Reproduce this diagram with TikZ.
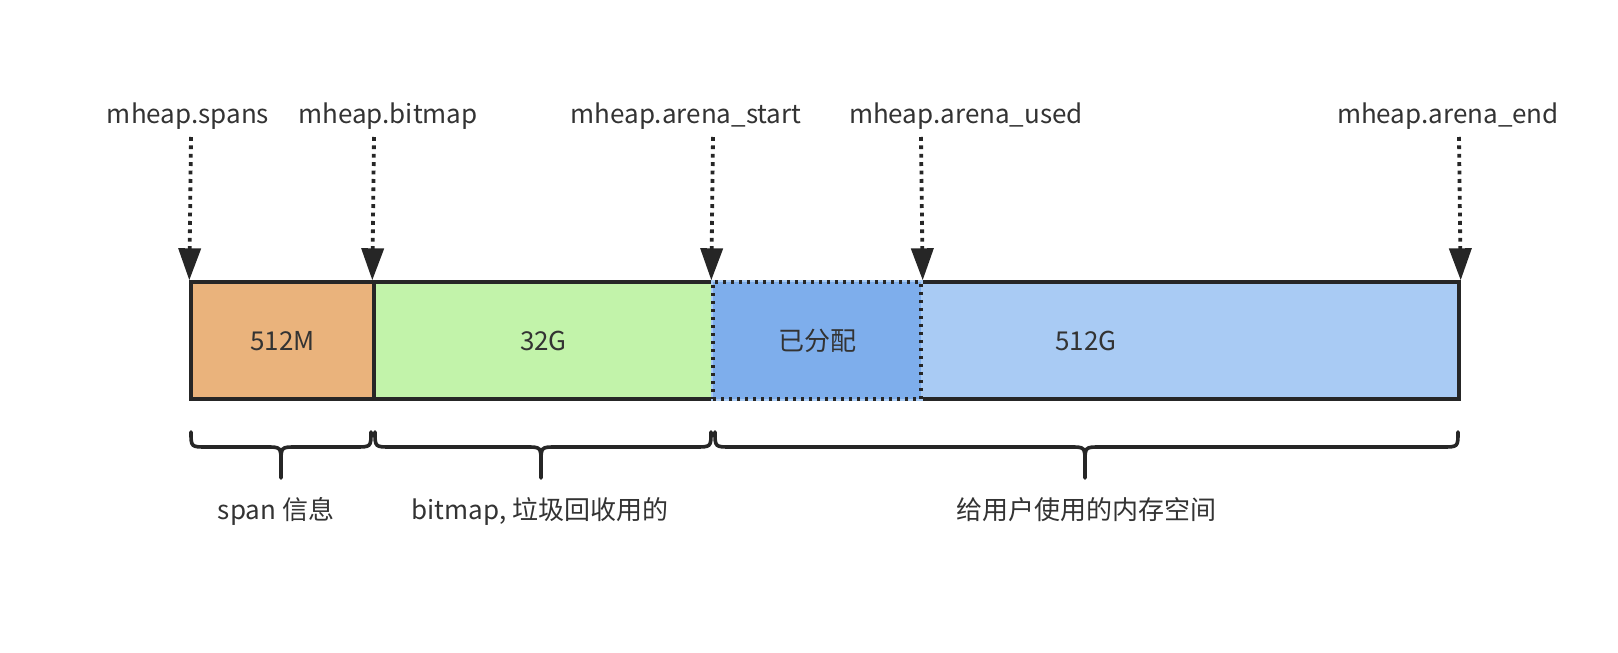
\documentclass[tikz,border=0pt]{standalone}
\usepackage{fontspec}
\setmainfont{Noto Sans CJK SC}
\usetikzlibrary{arrows.meta}
\definecolor{txt}{HTML}{333333}
\definecolor{edge}{HTML}{262626}
\definecolor{spanfill}{HTML}{EAB37C}
\definecolor{bitfill}{HTML}{C2F3AA}
\definecolor{usedfill}{HTML}{7EAEEC}
\definecolor{arenafill}{HTML}{A9CBF4}
\newcommand\mybrace[3]{%
  \draw[brc] (#1,432) .. controls (#1,447) .. ({#1+16},447) -- ({#2-15},447)
     .. controls (#2,447) .. (#2,463) -- (#2,478)
     (#2,463) .. controls (#2,447) .. ({#2+15},447) -- ({#3-16},447)
     .. controls (#3,447) .. (#3,432);}
\begin{document}
\begin{tikzpicture}[x=0.5pt,y=-0.5pt,
  lbl/.style={anchor=base,inner sep=0pt,text=txt,font=\fontsize{13pt}{15pt}\selectfont},
  seg/.style={rectangle,draw=edge,line width=1.7pt,inner sep=0pt,minimum height=58.5pt,
    text height=9.5pt,text depth=0pt,text=txt,font=\fontsize{13pt}{15pt}\selectfont},
  usedstyle/.style={draw=edge,line width=1.7pt,dash pattern=on 1.5pt off 2.5pt,
    preaction={draw=arenafill,line width=1.7pt,solid}},
  ptr/.style={draw=edge,line width=1.9pt,dash pattern=on 1.9pt off 2.3pt,
    -{Triangle[width=11pt,length=16pt]}},
  brc/.style={draw=edge,line width=1.8pt,line cap=round,line join=round}]
\useasboundingbox (0,0) rectangle (1618,653);
\fill[white] (0,0) rectangle (1618,653);
% bar segments
\node[seg,fill=spanfill,minimum width=91.5pt] (span) at (282.5,340.5) {512M};
\node[seg,fill=bitfill,minimum width=169.5pt] (bmp) at (543.5,340.5) {32G};
\node[seg,fill=arenafill,minimum width=373pt] (arena) at (1086,340.5) {512G};
\node[seg,fill=usedfill,usedstyle,minimum width=104pt] (used) at (817,340.5) {已分配};
% top labels
\node[lbl] (l1) at (188,123) {mheap.spans};
\node[lbl] (l2) at (388,123) {mheap.bitmap};
\node[lbl] (l3) at (686,123) {mheap.arena\_start};
\node[lbl] (l4) at (966,123) {mheap.arena\_used};
\node[lbl] (l5) at (1448,123) {mheap.arena\_end};
% arrow starts
\coordinate (t1) at (191,137);
\coordinate (t2) at (374,137);
\coordinate (t3) at (713,137);
\coordinate (t4) at (921,137);
\coordinate (t5) at (1459,137);
\draw[ptr] (t1) -- (span.north west);
\draw[ptr] (t2) -- (bmp.north west);
\draw[ptr] (t3) -- (used.north west);
\draw[ptr] (t4) -- (used.north east);
\draw[ptr] (t5) -- (arena.north east);
% braces
\mybrace{191}{281}{371}
\mybrace{375}{541}{711}
\mybrace{715}{1085}{1458}
% brace labels
\node[lbl] (b1) at (276,519) {span 信息};
\node[lbl] (b2) at (540,519) {bitmap, 垃圾回收用的};
\node[lbl] (b3) at (1086,519) {给用户使用的内存空间};
\end{tikzpicture}
\end{document}
